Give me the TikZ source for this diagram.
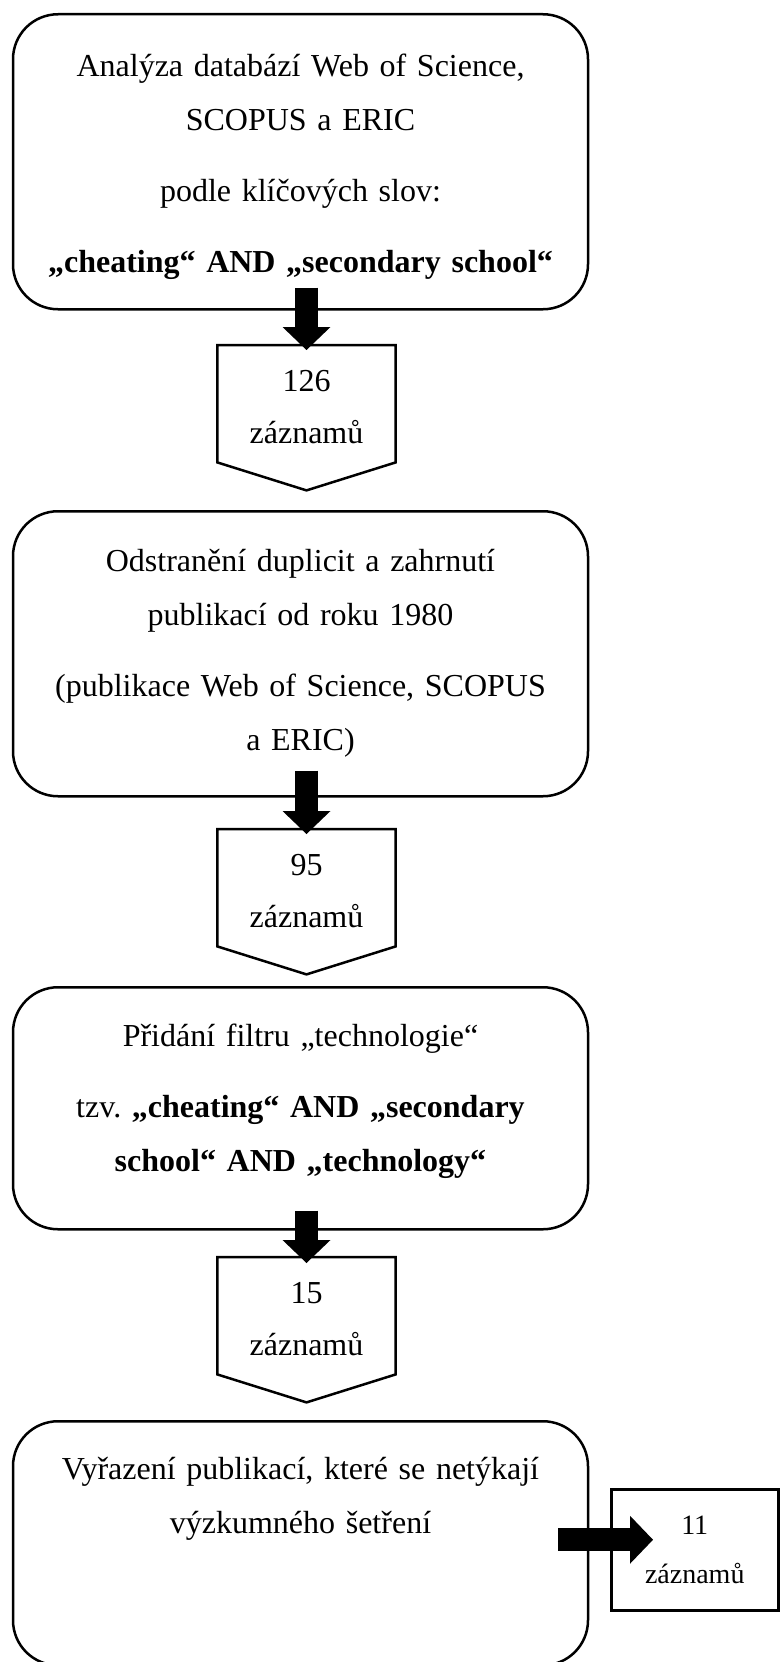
\documentclass[tikz,border=0pt]{standalone}
\usepackage{fontspec}
\setmainfont{Liberation Serif}
\usetikzlibrary{arrows.meta,calc}

\begin{document}
\begin{tikzpicture}[x=1pt, y=-1pt,
    every node/.style = {align=center, inner sep=0pt,
      font=\fontsize{32}{54}\selectfont},
    stage/.style = {shape=rectangle, rounded corners=45pt, draw,
      line width=2.5pt, text width=560pt, minimum width=575pt, anchor=north},
    tally/.style = {shape=rectangle, text width=160pt, minimum width=178pt,
      text height=46pt, text depth=71pt, anchor=north,
      font=\fontsize{32}{52}\selectfont},
    blockarrow/.style = {line width=23pt,
      -{Triangle[width=48pt, length=23pt, line width=0pt]}}]

  \useasboundingbox (0,0) rectangle (780,1662);

  % search steps
  \node[stage, text height=62pt, text depth=233pt] (search) at (300.5,13)
    {Analýza databází Web of Science,\\SCOPUS a ERIC\\[17pt]podle klíčových slov:\\[17pt]\textbf{„cheating“ AND „secondary school“}};
  \node[stage, text height=60pt, text depth=225pt] (duplicates) at (300.5,510)
    {Odstranění duplicit a zahrnutí\\publikací od roku 1980\\[17pt](publikace Web of Science, SCOPUS\\a ERIC)};
  \node[stage, text height=59pt, text depth=183pt] (filter) at (300.5,986)
    {Přidání filtru „technologie“\\[17pt]tzv.\ \textbf{„cheating“ AND „secondary}\\\textbf{school“ AND „technology“}};
  \node[stage, text height=58pt, text depth=186pt] (exclusion) at (300.5,1420)
    {Vyřazení publikací, které se netýkají\\výzkumného šetření};

  % record counts
  \node[tally] (n126) at (306.5,345) {126\\záznamů};
  \node[tally] (n95) at (306.5,829) {95\\záznamů};
  \node[tally] (n15) at (306.5,1257) {15\\záznamů};
  \foreach \n in {n126,n95,n15}
    \draw[line width=2.5pt] (\n.north west) -- (\n.north east) -- (\n.south east)
      -- ($(\n.south)+(0,28)$) -- (\n.south west) -- cycle;

  \node[shape=rectangle, draw, line width=2.5pt, text width=150pt,
    minimum width=167pt, text height=45pt, text depth=76pt, anchor=north west,
    font=\fontsize{28}{49}\selectfont] (n11) at (610,1488) {11\\záznamů};

  % arrows
  \draw[blockarrow] ($(search.south -| n126.north)+(0,-23)$) -- ($(n126.north)+(0,5)$);
  \draw[blockarrow] ($(duplicates.south -| n95.north)+(0,-27)$) -- ($(n95.north)+(0,5)$);
  \draw[blockarrow] ($(filter.south -| n15.north)+(0,-20)$) -- ($(n15.north)+(0,6)$);
  \draw[blockarrow] ($(exclusion.east |- n11.west)+(-31,-10)$) -- ($(n11.west)+(43,-10)$);
\end{tikzpicture}
\end{document}
